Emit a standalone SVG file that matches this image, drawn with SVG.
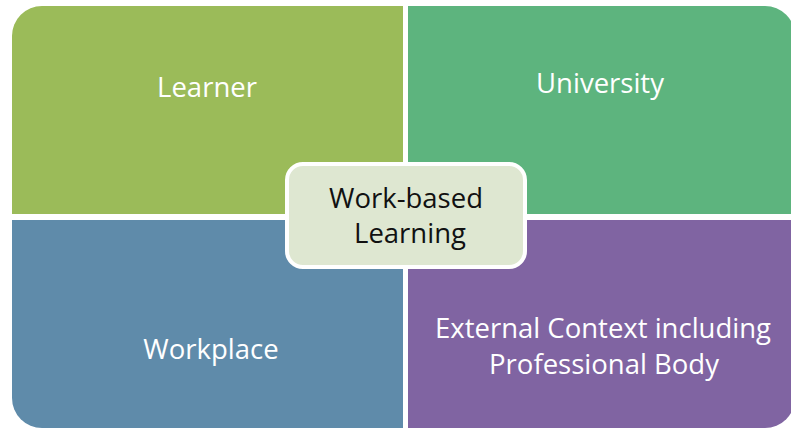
<svg xmlns="http://www.w3.org/2000/svg" width="791" height="430" viewBox="0 0 791 430">
<style>
.q{stroke:none}
.lbl{font-family:"Open Sans","Liberation Sans",sans-serif;font-size:27.5px;fill:#ffffff;text-anchor:middle}
.clbl{font-family:"Open Sans","Liberation Sans",sans-serif;font-size:27.5px;fill:#111111;text-anchor:middle}
</style>
<rect width="791" height="430" fill="#ffffff"/>
<g id="learner">
<path class="q" d="M12,214 V36 A30,30 0 0 1 42,6 H403 V214 Z" fill="#9BBB59"/>
<text class="lbl" x="207" y="97">Learner</text>
</g>
<g id="university">
<path class="q" d="M408,6 H765 A30,30 0 0 1 795,36 V214 H408 Z" fill="#5DB47E"/>
<text class="lbl" x="600" y="93">University</text>
</g>
<g id="workplace">
<path class="q" d="M12,220 H403 V428 H42 A30,30 0 0 1 12,398 Z" fill="#5F8BAA"/>
<text class="lbl" x="211" y="359">Workplace</text>
</g>
<g id="external">
<path class="q" d="M408,220 H795 V398 A30,30 0 0 1 765,428 H408 Z" fill="#8064A2"/>
<text class="lbl" x="603" y="338">External Context including</text>
<text class="lbl" x="604" y="374">Professional Body</text>
</g>
<g id="connectors"></g>
<g id="wbl">
<rect x="287" y="164" width="238" height="103" rx="16" ry="16" fill="#DEE7D1" stroke="#ffffff" stroke-width="4"/>
<text class="clbl" x="406" y="208">Work-based</text>
<text class="clbl" x="410" y="243">Learning</text>
</g>
</svg>
